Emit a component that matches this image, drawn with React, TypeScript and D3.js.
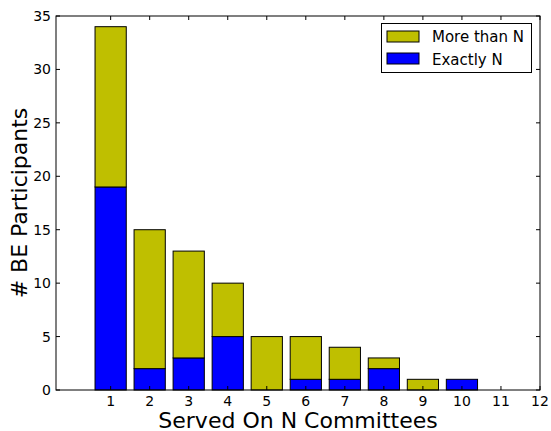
import React from "react";
import * as d3 from "d3";

const committees = [1, 2, 3, 4, 5, 6, 7, 8, 9, 10];
const exactlyN = [19, 2, 3, 5, 0, 1, 1, 2, 0, 1];
const moreThanN = [15, 13, 10, 5, 5, 4, 3, 1, 1, 0];
const xTicks = [1, 2, 3, 4, 5, 6, 7, 8, 9, 10, 11, 12];
const yTicks = [0, 5, 10, 15, 20, 25, 30, 35];

const OLIVE = "#bfbf00";
const BLUE = "#0000ff";
const FONT = "DejaVu Sans, sans-serif";

export default function App() {
  const width = 551, height = 431;
  const left = 56, right = 540, top = 16, bottom = 390;

  const x = d3.scaleLinear().domain([-0.4, 12]).range([left, right]);
  const y = d3.scaleLinear().domain([0, 35]).range([bottom, top]);
  const barW = x(0.8) - x(0);

  return (
    <svg width={width} height={height} style={{ position: "absolute", left: 0, top: 0 }}>
      <rect width={width} height={height} fill="white" />
      {committees.map((n, i) => {
        const e = exactlyN[i], m = moreThanN[i];
        return (
          <g key={n}>
            {e > 0 || m === 0 ? (
              <rect x={x(n - 0.4)} y={y(e)} width={barW} height={y(0) - y(e)}
                fill={BLUE} stroke="black" strokeWidth={1} />
            ) : null}
            {m > 0 ? (
              <rect x={x(n - 0.4)} y={y(e + m)} width={barW} height={y(e) - y(e + m)}
                fill={OLIVE} stroke="black" strokeWidth={1} />
            ) : null}
          </g>
        );
      })}
      <rect x={left} y={top} width={right - left} height={bottom - top}
        fill="none" stroke="black" strokeWidth={1} />
      {xTicks.map(t => (
        <g key={"x" + t}>
          <line x1={x(t)} x2={x(t)} y1={bottom} y2={bottom - 4} stroke="black" />
          <line x1={x(t)} x2={x(t)} y1={top} y2={top + 4} stroke="black" />
          <text x={x(t)} y={bottom + 16} textAnchor="middle" fontFamily={FONT} fontSize={14}>{t}</text>
        </g>
      ))}
      {yTicks.map(t => (
        <g key={"y" + t}>
          <line x1={left} x2={left + 4} y1={y(t)} y2={y(t)} stroke="black" />
          <line x1={right} x2={right - 4} y1={y(t)} y2={y(t)} stroke="black" />
          <text x={left - 5} y={y(t) + 5} textAnchor="end" fontFamily={FONT} fontSize={14}>{t}</text>
        </g>
      ))}
      <text x={(left + right) / 2} y={428} textAnchor="middle" fontFamily={FONT} fontSize={22}>
        Served On N Committees
      </text>
      <text transform={`translate(27,${(top + bottom) / 2}) rotate(-90)`} textAnchor="middle"
        fontFamily={FONT} fontSize={22}>
        # BE Participants
      </text>
      <g>
        <rect x={381.5} y={23.5} width={150} height={49} fill="white" stroke="black" strokeWidth={1} />
        <rect x={387} y={31} width={32} height={11} fill={OLIVE} stroke="black" />
        <text x={432} y={42} fontFamily={FONT} fontSize={15}>More than N</text>
        <rect x={387} y={53} width={32} height={11} fill={BLUE} stroke="black" />
        <text x={432} y={64.5} fontFamily={FONT} fontSize={15}>Exactly N</text>
      </g>
    </svg>
  );
}
